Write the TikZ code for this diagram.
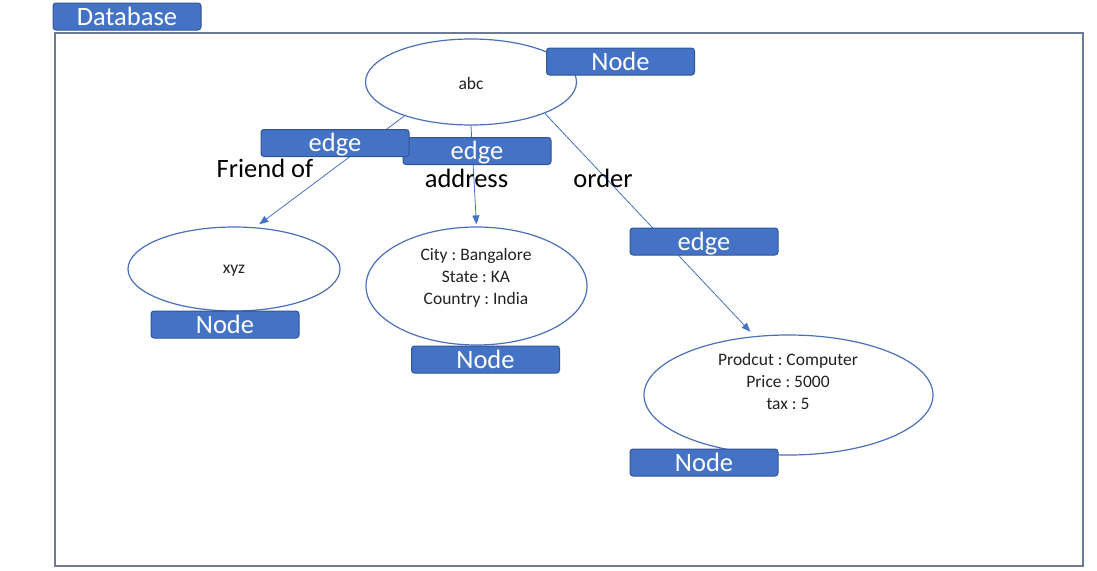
\documentclass[tikz,border=0pt]{standalone}
\usepackage{fontspec}
\setmainfont{Carlito}
\usetikzlibrary{shapes.geometric,arrows.meta}
\definecolor{boxblue}{HTML}{4472C4}
\definecolor{boxedge}{HTML}{2F5597}
\definecolor{framecol}{HTML}{6C7A96}
\definecolor{ellcol}{HTML}{4A70BC}
\definecolor{inktext}{HTML}{222222}
\frenchspacing
\begin{document}
\begin{tikzpicture}[x=1pt,y=-1pt,
 tag/.style={rectangle, rounded corners=3pt, fill=boxblue, draw=boxedge, line width=1pt, text=white, font=\fontsize{26.5}{30}\selectfont, minimum width=148pt, minimum height=27pt, text height=17pt, text depth=0pt, inner sep=0pt},
 blob/.style={ellipse, draw=ellcol, line width=1.2pt, fill=white, inner sep=0pt},
 small/.style={font=\fontsize{17.5}{22}\selectfont, align=center, text=inktext},
 lbl/.style={font=\fontsize{26.5}{30}\selectfont, anchor=base, text=black},
 conn/.style={draw=boxblue, line width=0.8pt, -{Triangle[length=9pt,width=7pt]}}]
\useasboundingbox (0,0) rectangle (1097,570);
\node[draw=framecol, line width=1.6pt, minimum width=1028pt, minimum height=533pt, inner sep=0pt, anchor=north west] (frame) at (54,32) {};
% ellipses
\node[blob, minimum width=211pt, minimum height=86pt] (abc) at (471,82) {};
\node[blob, minimum width=212pt, minimum height=84pt] (xyz) at (234,269) {};
\node[blob, minimum width=221pt, minimum height=118pt] (addr) at (476.5,286) {};
\node[blob, minimum width=289pt, minimum height=120pt] (ord) at (788.5,395) {};
% ellipse texts
\node[small] (abct) at (471,83) {abc};
\node[small] (xyzt) at (234,271) {xyz};
\node[small] (addrt) at (476,278) {City : Bangalore\\State : KA\\Country : India};
\node[small] (ordt) at (788,381) {Prodcut : Computer\\Price : 5000\\tax : 5};
% connectors
\draw[conn, shorten >=5pt] (abc.207) -- (xyz.63);
\draw[conn, shorten >=2pt] (abc.south) -- (addr.north);
\draw[conn, shorten >=6pt] (abc.-23) -- (ord.120);
% labels
\node[lbl] (lf) at (265,177) {Friend of};
\node[lbl] (la) at (466.5,187) {address};
\node[lbl] (lo) at (603,187) {order};
% tags
\node[tag] (e2) at (477,151) {edge};
\node[tag] (e1) at (335,143) {edge};
\node[tag] (e3) at (704,241.5) {edge};
\node[tag] (n1) at (620.5,61.5) {Node};
\node[tag] (n2) at (225,324.5) {Node};
\node[tag] (n3) at (485.5,359.5) {Node};
\node[tag] (n4) at (704,462.5) {Node};
\node[tag] (db) at (127,16.5) {Database};
\end{tikzpicture}
\end{document}
